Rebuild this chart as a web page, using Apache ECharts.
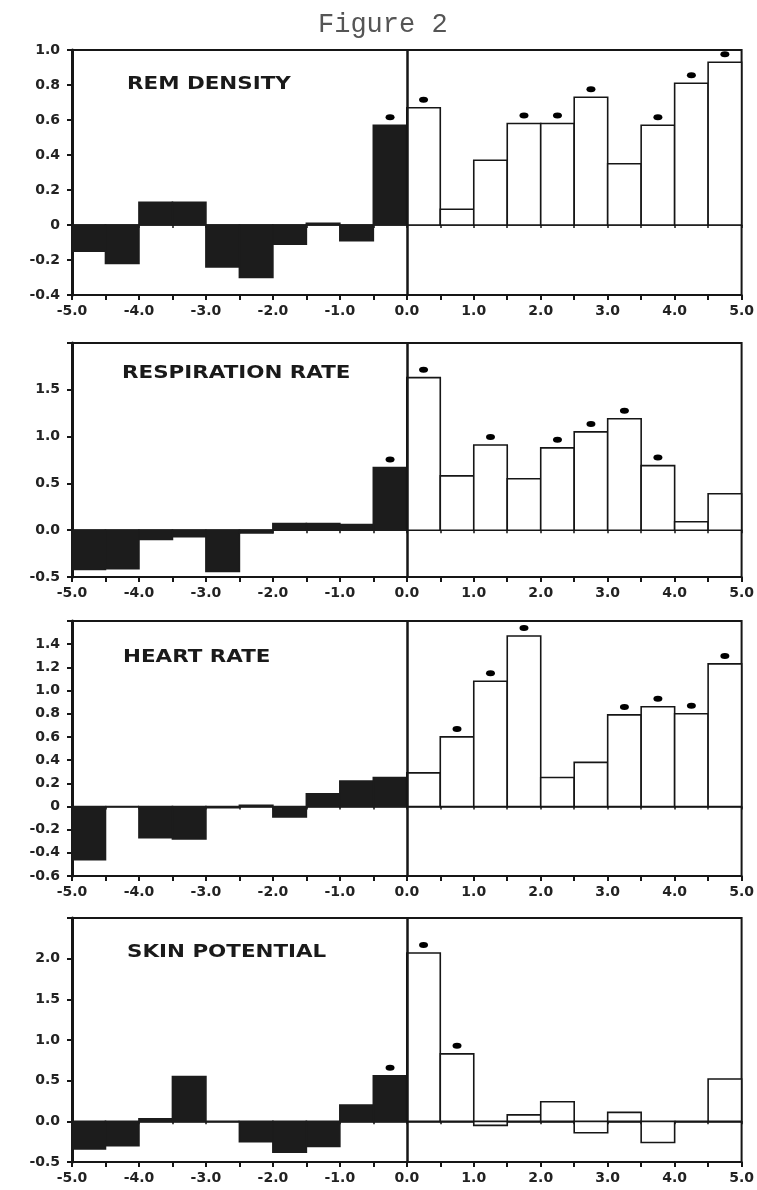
<!DOCTYPE html>
<html>
<head>
<meta charset="utf-8">
<script src="https://cdn.jsdelivr.net/npm/echarts@6/dist/echarts.min.js"></script>
<style>
  html, body { margin: 0; padding: 0; background: #fff; }
  #main { width: 757px; height: 1190px; }
</style>
</head>
<body>
<div id="main"></div>
<script>
// left edge of every half-minute bin
const binStart = [-5.0, -4.5, -4.0, -3.5, -3.0, -2.5, -2.0, -1.5, -1.0, -0.5,
                  0.0, 0.5, 1.0, 1.5, 2.0, 2.5, 3.0, 3.5, 4.0, 4.5];
const binWidth = 0.5;

const remDensity    = [-0.15, -0.22, 0.13, 0.13, -0.24, -0.30, -0.11, 0.01, -0.09, 0.57,
                       0.67, 0.09, 0.37, 0.58, 0.58, 0.73, 0.35, 0.57, 0.81, 0.93];
const respiration   = [-0.42, -0.41, -0.10, -0.07, -0.44, -0.03, 0.07, 0.07, 0.06, 0.67,
                       1.63, 0.58, 0.91, 0.55, 0.88, 1.05, 1.19, 0.69, 0.09, 0.39];
const heartRate     = [-0.46, 0.00, -0.27, -0.28, -0.01, 0.01, -0.09, 0.11, 0.22, 0.25,
                       0.29, 0.60, 1.08, 1.47, 0.25, 0.38, 0.79, 0.86, 0.80, 1.23];
const skinPotential = [-0.34, -0.30, 0.03, 0.55, 0.00, -0.25, -0.38, -0.31, 0.20, 0.56,
                       2.07, 0.83, -0.05, 0.08, 0.24, -0.14, 0.11, -0.26, 0.00, 0.52];

// bins marked with an asterisk (index into binStart)
const remStars   = [9, 10, 13, 14, 15, 17, 18, 19];
const respStars  = [9, 10, 12, 14, 15, 16, 17];
const heartStars = [11, 12, 13, 16, 17, 18, 19];
const skinStars  = [9, 10, 11];

const panelNames = ['REM DENSITY', 'RESPIRATION RATE', 'HEART RATE', 'SKIN POTENTIAL'];

const panels = [
  { values: remDensity,    stars: remStars,   min: -0.4, max: 1.0, step: 0.2, zero: '0',   top: 50,  height: 245, tx: 127, ty: 85 },
  { values: respiration,   stars: respStars,  min: -0.5, max: 2.0, step: 0.5, zero: '0.0', top: 343, height: 234, tx: 122, ty: 374, hideMax: true },
  { values: heartRate,     stars: heartStars, min: -0.6, max: 1.6, step: 0.2, zero: '0',   top: 621, height: 255, tx: 123, ty: 658, hideMax: true },
  { values: skinPotential, stars: skinStars,  min: -0.5, max: 2.5, step: 0.5, zero: '0.0', top: 918, height: 244, tx: 127, ty: 953, hideMax: true }
];

const ink = '#161616';
const labelFont = { fontFamily: 'DejaVu Sans', fontWeight: 'bold', fontSize: 14, color: '#222' };

const grid = [], xAxis = [], yAxis = [], series = [], graphic = [];

panels.forEach((p, i) => {
  grid.push({ left: 72, width: 670, top: p.top, height: p.height, show: true,
              borderColor: ink, borderWidth: 2, backgroundColor: 'transparent' });

  // bottom axis with labels
  xAxis.push({
    gridIndex: i, type: 'value', min: -5, max: 5, interval: 0.5, position: 'bottom',
    axisLine: { onZero: false, lineStyle: { color: ink, width: 2 } },
    axisTick: { length: 5, lineStyle: { color: ink, width: 2 } },
    splitLine: { show: false },
    axisLabel: Object.assign({ margin: 9, formatter: v => Math.abs(v - Math.round(v)) < 1e-6 ? v.toFixed(1) : '' }, labelFont)
  });
  // zero line with its little ticks
  xAxis.push({
    gridIndex: i, type: 'value', min: -5, max: 5, interval: 0.5, position: 'bottom',
    axisLine: { onZero: true, lineStyle: { color: ink, width: 1.5 } },
    axisTick: { length: 3, lineStyle: { color: ink, width: 1.5 } },
    axisLabel: { show: false }, splitLine: { show: false }
  });

  yAxis.push({
    gridIndex: i, type: 'value', min: p.min, max: p.max, interval: p.step,
    axisLine: { onZero: false, lineStyle: { color: ink, width: 3 } },
    axisTick: { length: 5, lineStyle: { color: ink, width: 2 } },
    splitLine: { show: false },
    axisLabel: Object.assign({
      margin: 12,
      formatter: v => {
        if (p.hideMax && Math.abs(v - p.max) < 1e-6) return '';
        if (Math.abs(v) < 1e-6) return p.zero;
        return v.toFixed(1);
      }
    }, labelFont)
  });

  series.push({
    type: 'custom', xAxisIndex: i * 2, yAxisIndex: i,
    data: binStart.map((s, k) => [s, p.values[k]]),
    renderItem: (params, api) => {
      const x0 = api.value(0), v = api.value(1);
      const a = api.coord([x0, 0]);
      const b = api.coord([x0 + binWidth, v]);
      const before = x0 < 0;
      return {
        type: 'rect',
        shape: { x: a[0], y: Math.min(a[1], b[1]), width: b[0] - a[0], height: Math.abs(a[1] - b[1]) },
        style: { fill: before ? '#1c1c1c' : '#fff', stroke: before ? '#1c1c1c' : ink, lineWidth: 1.6 }
      };
    }
  });

  series.push({
    type: 'scatter', xAxisIndex: i * 2, yAxisIndex: i,
    symbol: 'circle', symbolSize: [9, 6], symbolOffset: [0, -8],
    itemStyle: { color: '#000', opacity: 1 },
    data: p.stars.map(k => [binStart[k] + binWidth / 2, p.values[k]]),
    markLine: {
      silent: true, symbol: 'none', label: { show: false },
      lineStyle: { color: ink, width: 2.5, type: 'solid' },
      data: [{ xAxis: 0 }]
    },
    z: 5
  });

  graphic.push({
    type: 'text', x: p.tx, y: p.ty, scaleX: 1.26,
    style: { text: panelNames[i], fill: '#1a1a1a', verticalAlign: 'middle',
             font: 'bold 17px "DejaVu Sans"' }
  });
});

const chart = echarts.init(document.getElementById('main'));
chart.setOption({
  animation: false,
  backgroundColor: '#fff',
  title: {
    text: 'Figure 2', left: 313, top: 6,
    textStyle: { fontFamily: 'Liberation Mono', fontWeight: 'normal', fontSize: 27, color: '#555' }
  },
  grid, xAxis, yAxis, series, graphic
});
</script>
</body>
</html>
